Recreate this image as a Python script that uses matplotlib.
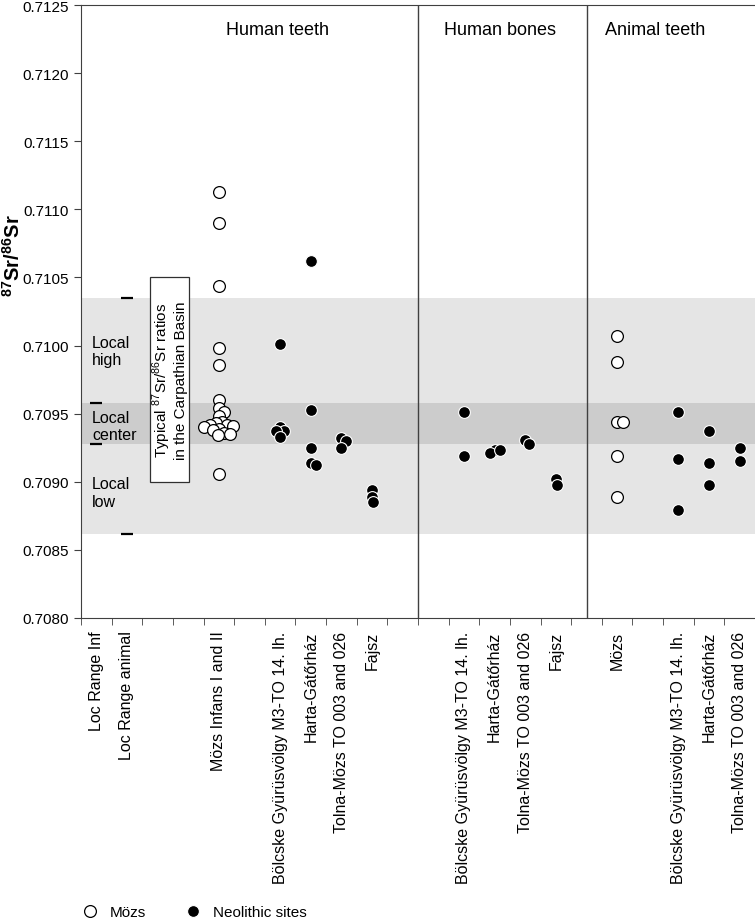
import matplotlib
matplotlib.use('Agg')
import matplotlib.pyplot as plt
from matplotlib.patches import Rectangle
from matplotlib.lines import Line2D
import numpy as np

plt.rcParams['font.family'] = ['Liberation Sans', 'DejaVu Sans']
plt.rcParams['mathtext.fontset'] = 'custom'
plt.rcParams['mathtext.rm'] = 'Liberation Sans'
plt.rcParams['mathtext.bf'] = 'Liberation Sans:bold'

# x categories (empty strings are gaps)
categories = ['Loc Range Inf', 'Loc Range animal', '', '', 'Mözs Infans I and II', '',
              'Bölcske Gyürüsvölgy M3-TO 14. lh.', 'Harta-Gátőrház',
              'Tolna-Mözs TO 003 and 026', 'Fajsz', '', '',
              'Bölcske Gyürüsvölgy M3-TO 14. lh.', 'Harta-Gátőrház',
              'Tolna-Mözs TO 003 and 026', 'Fajsz', '', 'Mözs', '',
              'Bölcske Gyürüsvölgy M3-TO 14. lh.', 'Harta-Gátőrház',
              'Tolna-Mözs TO 003 and 026']
sections = ['Human teeth', 'Human bones', 'Animal teeth']

# local range limits
loc_range_inf = [0.70958, 0.70928]
loc_range_animal = [0.71035, 0.70862]

# Mözs samples
mozs_infans = [0.71113, 0.71090, 0.71044, 0.70998, 0.70986, 0.70960, 0.70954, 0.70951,
               0.70948, 0.70944, 0.70943, 0.70942, 0.70942, 0.70941, 0.70940, 0.70939,
               0.70938, 0.70936, 0.70935, 0.70934, 0.70906]
at_mozs = [0.71007, 0.70988, 0.70944, 0.70944, 0.70919, 0.70889]

# neolithic sites
ht_bolcske = [0.71001, 0.70940, 0.70937, 0.70937, 0.70933]
ht_harta = [0.71062, 0.70953, 0.70925, 0.70914, 0.70912]
ht_tolna = [0.70932, 0.70930, 0.70925]
ht_fajsz = [0.70894, 0.70889, 0.70885]
hb_bolcske = [0.70951, 0.70919]
hb_harta = [0.70923, 0.70921, 0.70923]
hb_tolna = [0.70931, 0.70928]
hb_fajsz = [0.70902, 0.70898]
at_bolcske = [0.70951, 0.70917, 0.70879]
at_harta = [0.70937, 0.70914, 0.70898]
at_tolna = [0.70925, 0.70915]

mozs_groups = [(4, mozs_infans), (17, at_mozs)]
neo_groups = [(6, ht_bolcske), (7, ht_harta), (8, ht_tolna), (9, ht_fajsz),
              (12, hb_bolcske), (13, hb_harta), (14, hb_tolna), (15, hb_fajsz),
              (19, at_bolcske), (20, at_harta), (21, at_tolna)]

fig = plt.figure(figsize=(7.55, 9.2), dpi=100)
ax = fig.add_axes([81 / 755, 1 - 619 / 920, 1 - 81 / 755, (619 - 6) / 920])
n = len(categories)
ax.set_xlim(-0.5, n - 0.5)
ax.set_ylim(0.7080, 0.7125)

# local bands
ax.axhspan(loc_range_animal[1], loc_range_animal[0], color='#e5e5e5', lw=0, zorder=0)
ax.axhspan(loc_range_inf[1], loc_range_inf[0], color='#cccccc', lw=0, zorder=0)

ax.plot([0] * len(loc_range_inf), loc_range_inf, ls='none', marker='_', ms=8, mew=1.6, color='black')
ax.plot([1] * len(loc_range_animal), loc_range_animal, ls='none', marker='_', ms=8, mew=1.6, color='black')


def swarm(xc, values, dmin=5.6):
    ypx = ax.transData.transform([(xc, v) for v in values])[:, 1]
    pxx = ax.transData.transform((1, 0))[0] - ax.transData.transform((0, 0))[0]
    offs = np.zeros(len(values))
    placed = []
    for i in np.argsort(-ypx, kind='stable'):
        cands = [0.0]
        for ox, oy in placed:
            dy = ypx[i] - oy
            if abs(dy) < dmin:
                dx = np.sqrt(dmin ** 2 - dy ** 2)
                cands += [ox + dx, ox - dx]
        cands.sort(key=abs)
        for c in cands:
            if all((c - ox) ** 2 + (ypx[i] - oy) ** 2 >= dmin ** 2 - 1e-6 for ox, oy in placed):
                break
        offs[i] = c
        placed.append((c, ypx[i]))
    return xc + offs / pxx


for xc, vals in neo_groups:
    ax.scatter(swarm(xc, vals), vals, s=72, facecolor='black', edgecolor='white', lw=0.8, zorder=3)
for xc, vals in mozs_groups:
    ax.scatter(swarm(xc, vals, 6.2), vals, s=72, facecolor='white', edgecolor='black', lw=0.9, zorder=3)

# section dividers
for xd in [10.5, 16]:
    ax.axvline(xd, color='#404040', lw=1, zorder=2)
for xs, name in zip([5.9, 13.17, 18.23], sections):
    ax.text(xs, 0.71232, name, ha='center', va='center', fontsize=13)

# local range texts
ax.text(-0.14, 0.70996, 'Local\nhigh', ha='left', va='center', fontsize=11.5, linespacing=1.2)
ax.text(-0.14, 0.70941, 'Local\ncenter', ha='left', va='center', fontsize=11.5, linespacing=1.2)
ax.text(-0.14, 0.70892, 'Local\nlow', ha='left', va='center', fontsize=11.5, linespacing=1.2)

ax.add_patch(Rectangle((1.75, 0.7090), 1.27, 0.0015, facecolor='white', edgecolor='#303030', lw=0.9, zorder=4))
ax.text(2.385, 0.70975, 'Typical $^{87}$Sr/$^{86}$Sr ratios\nin the Carpathian Basin', rotation=90,
        ha='center', va='center', fontsize=11, linespacing=1.05, zorder=5)

# axes
ax.set_yticks(np.arange(0.7080, 0.71251, 0.0005))
ax.set_yticklabels(['{:.4f}'.format(t) for t in np.arange(0.7080, 0.71251, 0.0005)], fontsize=11)
ax.set_xticks(range(n))
ax.set_xticklabels(categories, rotation=90, fontsize=11.5, va='top')
ax.set_xticks(np.arange(-0.5, n), minor=True)
ax.tick_params(axis='x', which='major', length=0, pad=9)
ax.tick_params(axis='x', which='minor', length=5, color='#404040')
ax.tick_params(axis='y', length=5, color='#404040')
for side in ['left', 'bottom', 'top']:
    ax.spines[side].set_color('#404040')
ax.spines['right'].set_visible(False)

fig.text(13 / 755, 1 - 256 / 920, r'$\mathbf{^{87}Sr/^{86}Sr}$', rotation=90,
         ha='center', va='center', fontsize=14.5)

handles = [Line2D([], [], ls='none', marker='o', ms=8.5, mfc='white', mec='black', mew=0.9),
           Line2D([], [], ls='none', marker='o', ms=8.5, mfc='black', mec='white', mew=0.8)]
fig.legend(handles, ['Mözs', 'Neolithic sites'], ncol=2, frameon=False, fontsize=11,
           loc='center left', bbox_to_anchor=(67 / 755, 1 - 913 / 920),
           handletextpad=0.7, columnspacing=2.5, handlelength=1.2)

fig.savefig('out.png', dpi=100)
